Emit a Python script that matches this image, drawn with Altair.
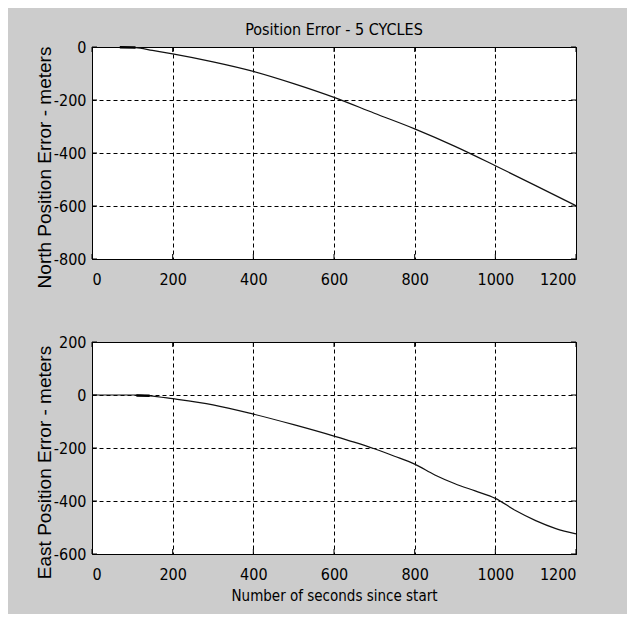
import altair as alt
import pandas as pd

# ---- data ----
north_t = [69, 108, 150, 200, 300, 400, 500, 600, 700, 800, 900, 1000, 1100, 1200]
north_v = [-1, -2, -13, -26, -56, -92, -138, -190, -250, -309, -375, -448, -523, -599]
north_mark_t = [69, 108]
north_mark_v = [-1, -2]

east_t = [0, 110, 143, 200, 300, 400, 500, 600, 650, 700, 750, 800, 850, 900, 950, 1000, 1050, 1100, 1150, 1200]
east_v = [0, 0, -3, -14, -37, -72, -112, -155, -178, -203, -231, -261, -302, -335, -362, -390, -436, -474, -504, -524]
east_mark_t = [110, 143]
east_mark_v = [-2, -3]

x_ticks = [0, 200, 400, 600, 800, 1000, 1200]
north_y_ticks = [0, -200, -400, -600, -800]
east_y_ticks = [200, 0, -200, -400, -600]

title_text = "Position Error - 5 CYCLES"
north_title = "North Position Error - meters"
east_title = "East Position Error - meters"
x_title = "Number of seconds since start"

NARROW = "DejaVu Sans Condensed, Liberation Sans Narrow, sans-serif"
REG = "Liberation Sans, Arial, sans-serif"
W, H = 484, 212


def panel(t, v, mt, mv, yticks, ydom, ytitle, xtitle):
    df = pd.DataFrame({"t": t, "v": v})
    dm = pd.DataFrame({"t": mt, "v": mv})
    dxt = pd.DataFrame({"p": x_ticks})
    dyt = pd.DataFrame({"p": yticks})
    xs = alt.Scale(domain=[0, 1200], nice=False, zero=False)
    ys = alt.Scale(domain=ydom, nice=False, zero=False)
    xaxis = alt.Axis(values=x_ticks, grid=True, gridDash=[4, 3], gridColor="black",
                     gridOpacity=1, gridWidth=1, domain=False, ticks=False,
                     labelExpr="'' + datum.value",
                     labelFont=NARROW, labelFontSize=16, labelColor="black",
                     labelPadding=12, title=xtitle if xtitle else None,
                     titleFont=NARROW, titleFontSize=15, titleFontWeight="normal",
                     titleColor="black", titlePadding=6)
    yaxis = alt.Axis(values=yticks, grid=True, gridDash=[4, 3], gridColor="black",
                     gridOpacity=1, gridWidth=1, domain=False, ticks=False,
                     labelExpr="'' + datum.value",
                     labelFont=NARROW, labelFontSize=16, labelColor="black",
                     labelPadding=6, title=ytitle, titleFont=REG, titleFontSize=19,
                     titleFontWeight="normal", titleColor="black",
                     titleX=-48, titleY=H / 2 + 14, titleBaseline="middle")
    X = lambda f: alt.X(f, type="quantitative", scale=xs, axis=xaxis)
    Y = lambda f: alt.Y(f, type="quantitative", scale=ys, axis=yaxis)

    line = alt.Chart(df).mark_line(color="#111111", strokeWidth=1.2,
                                   interpolate="monotone").encode(x=X("t"), y=Y("v"))
    mark = alt.Chart(dm).mark_line(color="black", strokeWidth=2.5).encode(x=X("t"), y=Y("v"))
    xt_top = alt.Chart(dxt).mark_rule(color="black").encode(x=X("p"), y=alt.value(0), y2=alt.value(5))
    xt_bot = alt.Chart(dxt).mark_rule(color="black").encode(x=X("p"), y=alt.value(H - 5), y2=alt.value(H))
    yt_l = alt.Chart(dyt).mark_rule(color="black").encode(y=Y("p"), x=alt.value(0), x2=alt.value(5))
    yt_r = alt.Chart(dyt).mark_rule(color="black").encode(y=Y("p"), x=alt.value(W - 5), x2=alt.value(W))
    return alt.layer(line, mark, xt_top, xt_bot, yt_l, yt_r).properties(width=W, height=H)


top = panel(north_t, north_v, north_mark_t, north_mark_v, north_y_ticks, [-800, 0],
            north_title, None).properties(
    title=alt.TitleParams(title_text, font=NARROW, fontSize=16, fontWeight="normal",
                          color="black", anchor="middle", offset=1))
bottom = panel(east_t, east_v, east_mark_t, east_mark_v, east_y_ticks, [-600, 200],
               east_title, x_title)

chart = alt.vconcat(top, bottom, spacing=83, bounds="flush").properties(
    padding={"left": 26, "top": 13, "right": 48, "bottom": 10}
).configure(background="#cccccc").configure_view(stroke="black", strokeWidth=1, fill="white")

chart.save("out.html", embed_options={"renderer": "svg", "actions": False})
